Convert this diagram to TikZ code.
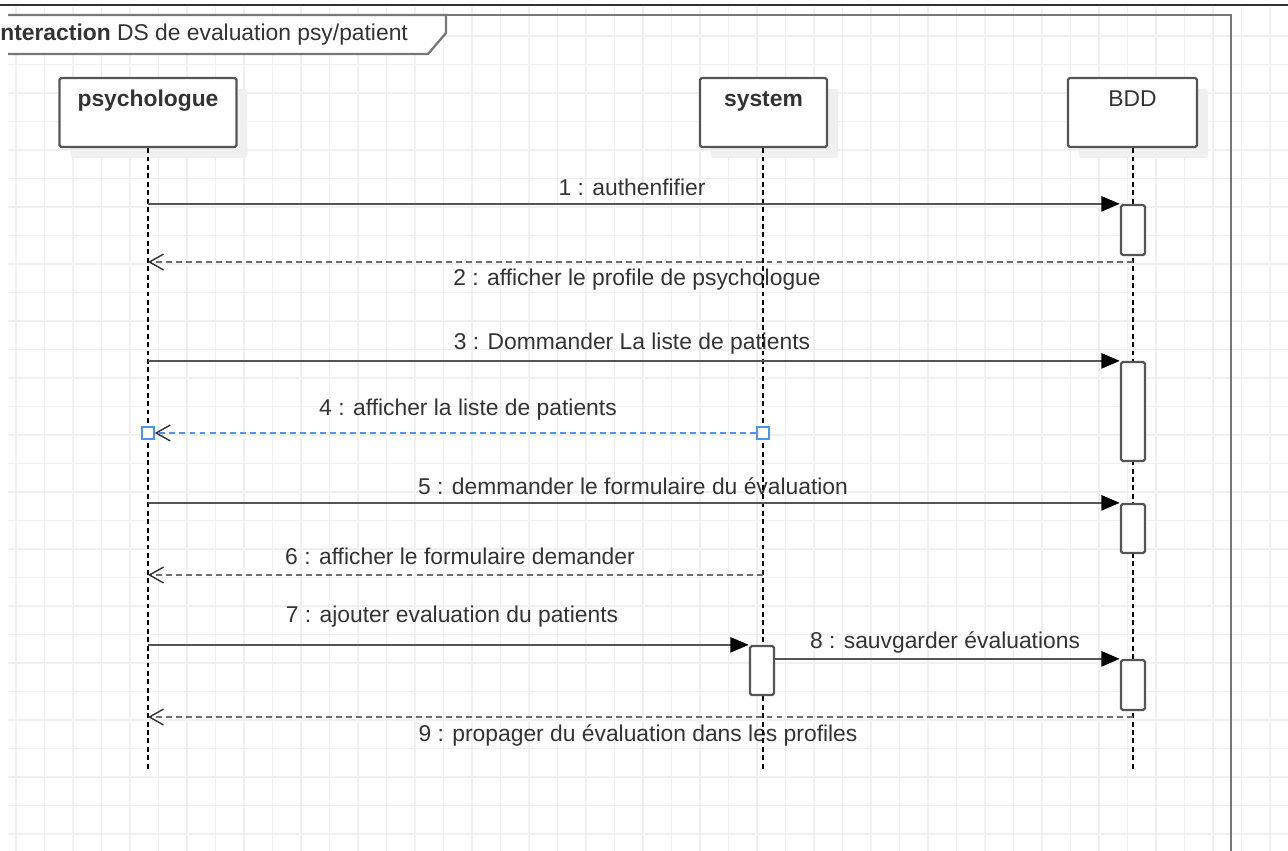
\documentclass[tikz,border=0pt]{standalone}
\usepackage{fontspec}
\setmainfont{Liberation Sans}
\usetikzlibrary{arrows.meta,positioning,shadows}

\definecolor{linegray}{HTML}{555555}
\definecolor{framegray}{HTML}{777777}
\definecolor{textgray}{HTML}{333333}
\definecolor{gridgray}{HTML}{F0F0F0}
\definecolor{selblue}{HTML}{4D94F5}

\tikzset{
  lbl/.style={font=\fontsize{13}{15}\selectfont, text=textgray, inner sep=0pt},
  head/.style={draw=linegray, line width=1.3pt, rounded corners=1pt, fill=white,
    minimum height=1.38cm, inner sep=0.16cm, text height=0.42cm, text depth=0.64cm,
    font=\fontsize{13}{15}\selectfont, text=textgray,
    drop shadow={fill=black!6, opacity=1, shadow xshift=0.22cm, shadow yshift=-0.22cm}},
  actbox/.style={draw=linegray, line width=1.3pt, rounded corners=1pt, fill=white,
    minimum width=0.48cm, inner sep=0pt},
  lifeline/.style={black, line width=0.9pt, dash pattern=on 2.8pt off 2pt},
  sync/.style={linegray, line width=1.5pt, -{Triangle[length=10.5pt, width=8.5pt, black]}},
  reply/.style={linegray!85, line width=1.5pt, dash pattern=on 3.4pt off 2.3pt,
    -{Straight Barb[length=8pt, width=9pt, line width=0.8pt, black!80]}},
  selbox/.style={draw=selblue, fill=white, line width=0.8pt, minimum size=0.24cm, inner sep=0pt}
}

\begin{document}
\begin{tikzpicture}[x=0.02cm, y=-0.02cm]
  \useasboundingbox (0,0) rectangle (1288,851);
  \fill[white] (0,0) rectangle (1288,851);

  % grid
  \foreach \i in {0,...,44}
    \draw[gridgray, line width=0.7pt] (16+28.5*\i,7) -- (16+28.5*\i,851);
  \foreach \j in {1,...,29}
    \draw[gridgray, line width=0.7pt] (8,7.5+28.5*\j) -- (1288,7.5+28.5*\j);
  \draw[textgray, line width=1.1pt] (0,5) -- (1288,5);

  % frame and its label
  \draw[framegray, line width=1.3pt] (8,15) -- (1231,15) -- (1231,860);
  \draw[framegray, line width=1.3pt, fill=white] (8,15) -- (446,15) -- (446,33) -- (428,54) -- (8,54);
  \node[lbl, anchor=west] (title) at (0,35) {\textbf{nteraction} DS de evaluation psy/patient};

  % heads
  \node[head, minimum width=3.54cm] (psy) at (148,112.5) {\textbf{psychologue}};
  \node[head, minimum width=2.54cm] (sys) at (763.5,112.5) {\textbf{system}};
  \node[head, minimum width=2.58cm] (bdd) at (1132.5,112.5) {BDD};

  % labels
  \node[lbl] (l1) at (632,187) {1 : authenfifier};
  \node[lbl] (l2) at (637,280) {2 : afficher le profile de psychologue};
  \node[lbl] (l3) at (632,344) {3 : Dommander La liste de patients};
  \node[lbl] (l4) at (468,410) {4 : afficher la liste de patients};
  \node[lbl] (l5) at (633,486) {5 : demmander le formulaire du évaluation};
  \node[lbl] (l6) at (460,556) {6 : afficher le formulaire demander};
  \node[lbl] (l7) at (452,617) {7 : ajouter evaluation du patients};
  \node[lbl] (l8) at (945,642) {8 : sauvgarder évaluations};
  \node[lbl] (l9) at (638,735) {9 : propager du évaluation dans les profiles};

  \coordinate (psyend) at (148,770);
  \coordinate (sysend) at (763,770);
  \coordinate (bddend) at (1133,770);

  \draw[lifeline] (psy.south) -- (psyend);
  \draw[lifeline] (sys.south -| sysend) -- (sysend);
  \draw[lifeline] (bdd.south -| bddend) -- (bddend);

  % activations
  \node[actbox, minimum height=1.0cm] (actA) at (1133,230) {};
  \node[actbox, minimum height=1.98cm] (actB) at (1133,411.5) {};
  \node[actbox, minimum height=0.98cm] (actC) at (1133,528.5) {};
  \node[actbox, minimum height=0.98cm] (actD) at (762,670.5) {};
  \node[actbox, minimum height=1.0cm] (actE) at (1133,685) {};

  \coordinate (r2) at (1133,262);
  \coordinate (r6) at (763,575);
  \coordinate (r9) at (1133,717);
  \node[selbox] (s4a) at (148,433) {};
  \node[selbox] (s4b) at (763,433) {};

  % messages
  \draw[sync] (psy.south |- actA.north) -- (actA.north west);
  \draw[reply] (r2) -- (psy.south |- r2);
  \draw[sync] (psy.south |- actB.north) -- (actB.north west);
  \draw[reply, selblue] (s4b.west) -- (s4a.east);
  \draw[sync] (psy.south |- actC.north) -- (actC.north west);
  \draw[reply] (r6) -- (psy.south |- r6);
  \draw[sync] (psy.south |- actD.north) -- (actD.north west);
  \draw[sync] (actD.east |- actE.north) -- (actE.north west);
  \draw[reply] (r9) -- (psy.south |- r9);
\end{tikzpicture}
\end{document}
